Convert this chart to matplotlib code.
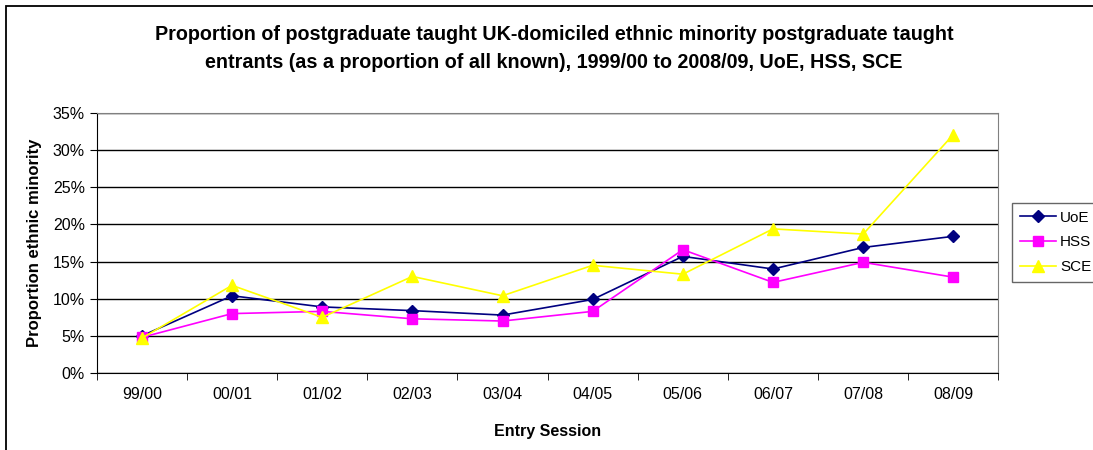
import numpy as np
import matplotlib.pyplot as plt
from matplotlib.ticker import FixedLocator, PercentFormatter
from matplotlib.patches import Rectangle

plt.rcParams['font.family'] = ['Liberation Sans', 'DejaVu Sans']

# datos
sesiones = ['99/00', '00/01', '01/02', '02/03', '03/04', '04/05', '05/06', '06/07', '07/08', '08/09']
uoe = [5.0, 10.4, 8.9, 8.4, 7.8, 9.9, 15.7, 14.0, 16.9, 18.4]
hss = [4.8, 8.0, 8.3, 7.3, 7.0, 8.3, 16.6, 12.2, 14.9, 12.9]
sce = [4.7, 11.8, 7.5, 13.0, 10.4, 14.5, 13.3, 19.4, 18.7, 32.1]

fig = plt.figure(figsize=(10.93, 4.5), dpi=100)
ax = fig.add_axes([0.0885, 0.171, 0.825, 0.578])

x = np.arange(len(sesiones))
ax.plot(x, uoe, color='#000080', marker='D', markersize=6, lw=1.2, label='UoE')
ax.plot(x, hss, color='#FF00FF', marker='s', markersize=7, lw=1.2, label='HSS')
ax.plot(x, sce, color='#FFFF00', marker='^', markersize=8, lw=1.2, label='SCE')

ax.set_xlim(-0.5, len(sesiones) - 0.5)
ax.set_ylim(0, 35)
ax.set_xticks(x)
ax.set_xticklabels(sesiones, fontsize=11.5)
ax.xaxis.set_minor_locator(FixedLocator(np.arange(-0.5, len(sesiones), 1)))
ax.tick_params(axis='x', which='major', length=0, pad=10)
ax.tick_params(axis='x', which='minor', length=5, direction='out', color='black')
ax.set_yticks(np.arange(0, 36, 5))
ax.yaxis.set_major_formatter(PercentFormatter(decimals=0))
ax.tick_params(axis='y', labelsize=11.5, length=5, direction='out', color='black')
ax.grid(axis='y', color='black', lw=1)
ax.set_axisbelow(True)

for s in ['top', 'right']:
    ax.spines[s].set_color('#808080')
ax.spines['left'].set_color('black')
ax.spines['bottom'].set_color('black')

ax.set_xlabel('Entry Session', fontsize=11.5, fontweight='bold', labelpad=16)
ax.set_ylabel('Proportion ethnic minority', fontsize=12, fontweight='bold', labelpad=8)
fig.suptitle('Proportion of postgraduate taught UK-domiciled ethnic minority postgraduate taught\n'
             'entrants (as a proportion of all known), 1999/00 to 2008/09, UoE, HSS, SCE',
             fontsize=14.2, fontweight='bold', x=0.507, y=0.945, linespacing=1.6)

leg = fig.legend(loc='upper left', bbox_to_anchor=(0.926, 0.549), borderaxespad=0, fontsize=11,
                 frameon=True, fancybox=False, edgecolor='#404040', handlelength=2.35,
                 borderpad=0.5, labelspacing=0.7, handletextpad=0.3)
leg.get_frame().set_linewidth(1)

# borde del area del grafico
fig.patches.append(Rectangle((0.0055, -0.05), 1.2, 1.037, transform=fig.transFigure,
                             fill=False, edgecolor='black', lw=1.3))

fig.savefig('out.png', dpi=100)
